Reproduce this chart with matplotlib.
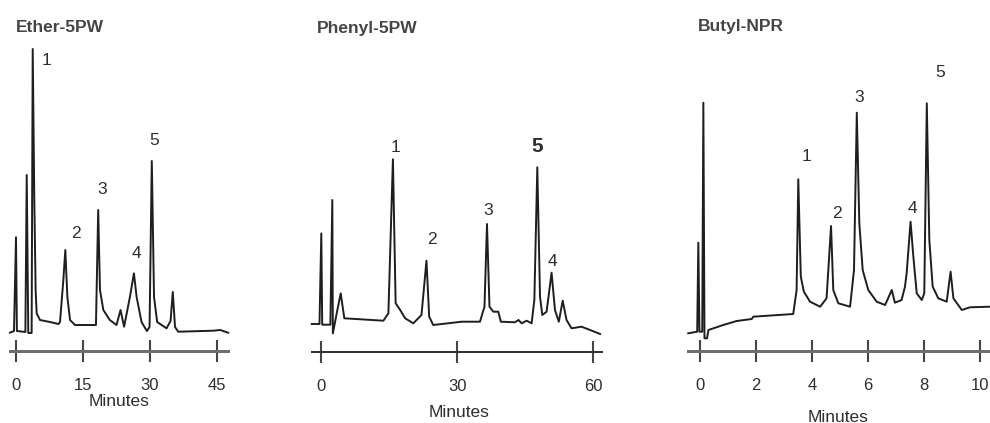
import matplotlib
matplotlib.use("Agg")
import matplotlib.pyplot as plt

plt.rcParams['font.family'] = ['Liberation Sans Narrow', 'Liberation Sans', 'DejaVu Sans']

# ---------------- data (time in minutes, detector response in arbitrary units) ----------------
titles = ["Ether-5PW", "Phenyl-5PW", "Butyl-NPR"]

ether_t = [-1.34, -0.45, 0.0, 0.2, 2.1, 2.4, 2.75, 3.5, 3.74, 4.1, 4.4, 4.63, 5.37, 7.6, 9.5,
           9.85, 10.6, 11.04, 11.5, 12.1, 13.2, 17.9, 18.4, 18.8, 19.55, 21.0, 22.5,
           23.4, 24.2, 25.5, 26.4, 27.0, 28.1, 29.3, 29.9, 30.4, 30.9, 31.6, 33.7, 34.6,
           35.1, 35.6, 36.3, 44.2, 45.7, 47.5]
ether_s = [18.3, 20, 113.7, 20, 19, 176, 18, 18, 302, 150, 60, 37.7, 31, 29, 27,
           29, 71, 101, 54, 31, 26, 26, 141, 61, 41, 31, 26,
           41, 24.3, 54, 77.7, 54, 29, 20, 24, 190, 54, 29, 22.7, 30,
           59, 24, 19.3, 20.3, 21, 18.3]

phenyl_t = [-2.1, -0.4, 0.0, 0.2, 2.0, 2.43, 2.55, 3.4, 4.28, 5.08, 13.7, 14.8, 15.8,
            16.4, 17.4, 18.5, 20.3, 22.1, 23.2, 23.8, 24.7, 31.0, 35.0, 36.0, 36.55,
            37.1, 37.95, 39.05, 39.6, 42.7, 43.5, 44.2, 45.3, 46.4, 47.0, 47.65, 48.25,
            48.75, 49.7, 50.8, 51.55, 52.4, 53.25, 54.1, 55.2, 57.4, 59.3, 61.5]
phenyl_s = [27.7, 27.7, 118.3, 27, 27, 151.7, 18.3, 38.4, 58.4, 33.4, 31, 38.4, 192.4,
            48.4, 41.7, 33.4, 28.4, 36.7, 91, 35, 26.7, 30, 30, 45, 127.7,
            45, 40, 40, 30, 29.4, 31.7, 28.4, 31, 28.4, 51.7, 184.4, 55,
            36.7, 40, 79, 41.7, 30, 51, 31.7, 23.4, 25, 21.7, 17.7]

butyl_t = [-0.42, -0.1, -0.06, -0.02, 0.08, 0.12, 0.16, 0.25, 0.3, 0.83, 1.31, 1.85, 1.9,
           3.33, 3.45, 3.51, 3.6, 3.71, 3.93, 4.29, 4.52, 4.68, 4.76, 4.94, 5.36, 5.5,
           5.6, 5.69, 5.81, 6.01, 6.31, 6.61, 6.85, 6.96, 7.2, 7.32, 7.38, 7.52, 7.62,
           7.74, 7.92, 8.01, 8.1, 8.19, 8.31, 8.51, 8.81, 8.95, 9.05, 9.35, 9.64, 10.36]
butyl_s = [17.7, 19.3, 108.3, 19.3, 19.3, 248.3, 12.7, 12.7, 21, 26, 30, 32, 34.3,
           37, 61, 171.7, 74.3, 59.3, 49.3, 44.3, 52.7, 125, 61, 47.7, 44.3, 81,
           238.3, 127.7, 81, 61, 49.3, 46, 61, 48.3, 51, 64.3, 77.7, 129.3, 94.3,
           57.7, 51, 57.7, 247.7, 111, 64.3, 52.7, 49.3, 79.3, 52.7, 41, 43.7, 44.3]

peak_names = ["1", "2", "3", "4", "5"]
ether_lab_t = [6.87, 13.4, 19.2, 27.0, 30.9]
ether_lab_s = [291, 118, 162, 98, 211]
phenyl_lab_t = [16.26, 24.35, 36.77, 51.1, 47.74]
phenyl_lab_s = [204.7, 112.7, 141.7, 89.7, 205.7]
butyl_lab_t = [3.82, 4.88, 5.69, 7.6, 8.57]
butyl_lab_s = [195, 138, 254, 143, 279]

ether_ticks = [0, 15, 30, 45]
phenyl_ticks = [0, 30, 60]
butyl_ticks = [0, 2, 4, 6, 8, 10]

# ---------------- layout ----------------
W, H = 990, 423
fig = plt.figure(figsize=(W / 100, H / 100), dpi=100)

panels = [
    dict(t=ether_t, s=ether_s, lt=ether_lab_t, ls=ether_lab_s, ticks=ether_ticks,
         left=0, width=300, ppm=4.467, x0=16, ay=351, bounds=(-1.34, 47.5),
         title=(16, 27), xl=(0.397, 0.050), lw_axis=3.0, axc="#6e6e6e"),
    dict(t=phenyl_t, s=phenyl_s, lt=phenyl_lab_t, ls=phenyl_lab_s, ticks=phenyl_ticks,
         left=300, width=340, ppm=4.533, x0=321.3, ay=351.7, bounds=(-2.12, 61.86),
         title=(317, 28), xl=(0.468, 0.026), lw_axis=2.0, axc="#333333"),
    dict(t=butyl_t, s=butyl_s, lt=butyl_lab_t, ls=butyl_lab_s, ticks=butyl_ticks,
         left=660, width=330, ppm=28.0, x0=700, ay=351, bounds=(-0.43, 10.36),
         title=(698, 27), xl=(0.540, 0.014), lw_axis=3.0, axc="#6e6e6e"),
]

txt_col = "#2e2e2e"
for i, p in enumerate(panels):
    ax = fig.add_axes([p['left'] / W, 0, p['width'] / W, 1])
    ax.plot(p['t'], p['s'], color="#1e1e1e", lw=1.4, solid_joinstyle='round')
    ax.set_xlim((p['left'] - p['x0']) / p['ppm'], (p['left'] + p['width'] - p['x0']) / p['ppm'])
    ax.set_ylim(p['ay'] - H, p['ay'])
    for sp in ['top', 'left', 'right']:
        ax.spines[sp].set_visible(False)
    ax.spines['bottom'].set_position(('data', 0))
    ax.spines['bottom'].set_bounds(*p['bounds'])
    ax.spines['bottom'].set_linewidth(p['lw_axis'] * 0.72)
    ax.spines['bottom'].set_color(p['axc'])
    ax.set_yticks([])
    ax.set_xticks(p['ticks'])
    ax.set_xticklabels([str(v) for v in p['ticks']])
    ax.tick_params(axis='x', direction='inout', length=16, width=1.5, color="#444444",
                   pad=11.5, labelsize=12, labelcolor=txt_col)
    ax.patch.set_visible(False)
    ax.set_xlabel("Minutes", fontsize=12.5, color=txt_col)
    ax.xaxis.set_label_coords(*p['xl'])
    ax.xaxis.label.set_verticalalignment('center')
    for name, lt, ls in zip(peak_names, p['lt'], p['ls']):
        big = (i == 1 and name == "5")
        ax.text(lt, ls, name, ha='center', va='center', fontsize=15 if big else 12.5,
                color=txt_col, fontweight='bold' if big else 'normal')
    fig.text(p['title'][0] / W, 1 - p['title'][1] / H, titles[i], ha='left', va='center',
             fontsize=12.5, color="#454545", fontweight='bold')

fig.savefig("out.png", dpi=100)
